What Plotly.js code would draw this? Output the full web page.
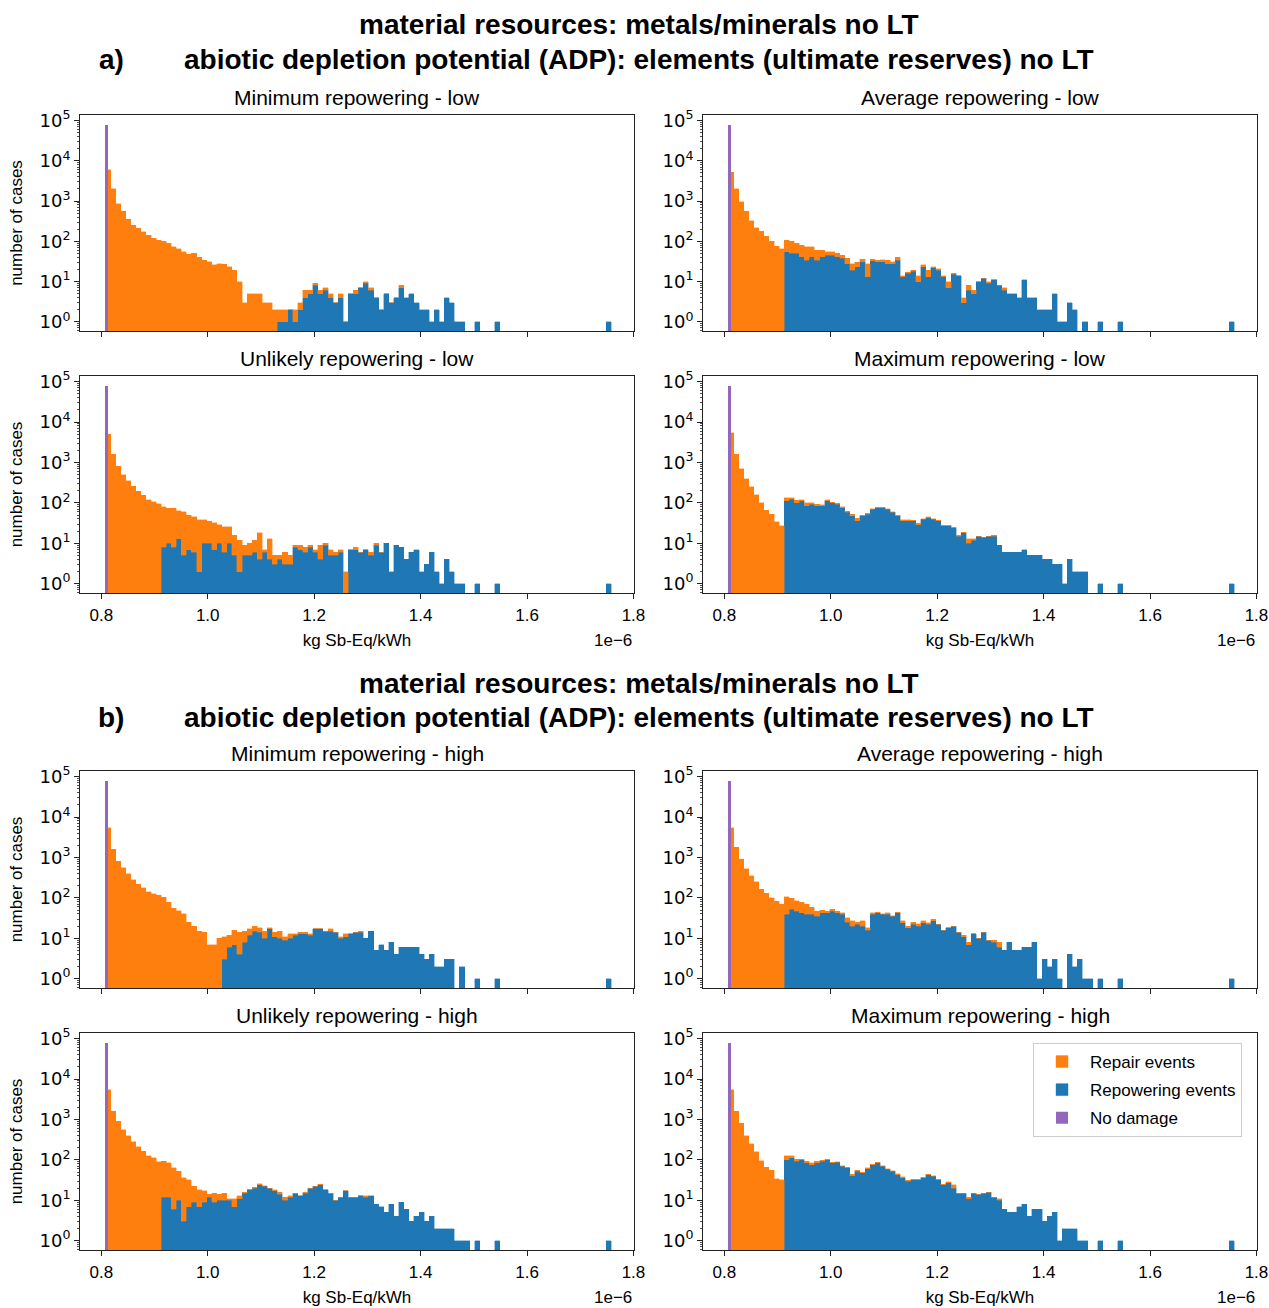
<!DOCTYPE html>
<html>
<head>
<meta charset="utf-8">
<script src="https://cdn.plot.ly/plotly-3.0.1.min.js"></script>
<style>
  html, body { margin: 0; padding: 0; background: #ffffff; }
  #chart { width: 1269px; height: 1308px; }
</style>
</head>
<body>
<div id="chart"></div>
<script>
// ---------------- DATA ----------------
// histogram bins: left edge of first bin and bin width (kg Sb-Eq/kWh, x 1e-6)
const binStart = 0.808;
const binWidth = 0.0095;

const groupTitleLine1 = 'material resources: metals/minerals no LT';
const groupTitleLine2 = 'abiotic depletion potential (ADP): elements (ultimate reserves) no LT';
const groupLabels = ['a)', 'b)'];

const panelTitles = [
  'Minimum repowering - low', 'Average repowering - low',
  'Unlikely repowering - low', 'Maximum repowering - low',
  'Minimum repowering - high', 'Average repowering - high',
  'Unlikely repowering - high', 'Maximum repowering - high'
];

const seriesNames = ['Repair events', 'Repowering events', 'No damage'];

const xTickVals = [0.8, 1.0, 1.2, 1.4, 1.6, 1.8];
const xTickText = ['0.8', '1.0', '1.2', '1.4', '1.6', '1.8'];
const yTickVals = [1, 10, 100, 1000, 10000, 100000];
const yTickText = ['10<sup>0</sup>', '10<sup>1</sup>', '10<sup>2</sup>', '10<sup>3</sup>', '10<sup>4</sup>', '10<sup>5</sup>'];
const xAxisTitle = 'kg Sb-Eq/kWh';
const yAxisTitle = 'number of cases';
const xOffsetText = '1e\u22126';

// "No damage" cases: one bar at the minimum value
const noDamageX = 0.8095;
const noDamageWidth = 0.0045;
const noDamage = [78000, 78000, 78000, 78000, 78000, 78000, 78000, 78000];

// counts per bin (index 0 = first bin)
const repair_minLow = [
  6000,2000,850,560,350,250,210,175,140,118,
  107,100,89,74,66,55,48,50,40,34,
  31,26,28,27,23,19,10,3,5,5,
  5,3,3,2,1,1,0,1,1,2,
  1,1,1,1,1,0,1,0,0,1,
  0,1,1,0,0,0,0,0,1];
const repower_minLow = [
  0,0,0,0,0,0,0,0,0,0,
  0,0,0,0,0,0,0,0,0,0,
  0,0,0,0,0,0,0,0,0,0,
  0,0,0,0,1,1,2,1,2,4,
  5,8,5,6,4,3,4,1,5,5,
  7,9,6,4,2,5,3,4,7,4,
  5,3,2,2,1,2,1,4,3,1,
  1,0,0,1,0,0,0,1,0,0,
  0,0,0,0,0,0,0,0,0,0,
  0,0,0,0,0,0,0,0,0,1];

const repair_avgLow = [
  5200,2000,950,560,320,220,178,132,100,76,
  66,52,50,39,39,40,33,26,19,10,
  10,9,7,10,9,7,5,15,3,3,
  4,6,3,6,1,1,1,4,3,6,
  1,2,1,3,1,0,1,2,1,0,
  0,1,0,0,1];
const repower_avgLow = [
  0,0,0,0,0,0,0,0,0,0,
  0,55,50,50,41,34,41,34,41,45,
  45,41,38,28,19,23,31,13,33,31,
  31,28,28,34,13,16,18,10,23,13,
  22,19,13,7,15,14,3,6,5,10,
  12,9,11,8,6,5,5,4,11,4,
  4,2,2,2,5,1,1,3,2,0,
  1,0,0,1,0,0,0,1,0,0,
  0,0,0,0,0,0,0,0,0,0,
  0,0,0,0,0,0,0,0,0,1];

const repair_unlLow = [
  5000,1600,800,500,350,260,195,155,120,107,
  95,72,64,66,50,55,43,40,36,28,
  25,25,19,20,16,11,10,4,5,6,
  14,1,9,2,1,3,2,1,2,2,
  1,1,5,1,2,1,1,2,0,1,
  0,0,1,1,0];
const repower_unlLow = [
  0,0,0,0,0,0,0,0,0,0,
  0,8,10,8,13,5,7,6,2,10,
  10,7,10,6,10,5,2,5,5,6,
  4,6,4,3,4,3,3,8,7,6,
  8,6,4,9,5,5,6,0,7,7,
  6,7,5,9,6,10,2,9,8,4,
  6,7,2,3,6,2,1,4,2,1,
  1,0,0,1,0,0,0,1,0,0,
  0,0,0,0,0,0,0,0,0,0,
  0,0,0,0,0,0,0,0,0,1];

const repair_maxLow = [
  5500,1600,700,400,250,160,100,66,52,34,
  27,23,12,15,8,15,7,8,5,6,
  5,4,4,4,4,6,2,3,3,2,
  2,3,2,2,2,2,1,2,1,2,
  1,1,1,1,1,1,1,3,1,0,
  0,0,1];
const repower_maxLow = [
  0,0,0,0,0,0,0,0,0,0,
  0,112,123,100,112,85,93,85,85,112,
  100,93,76,58,48,36,48,52,69,76,
  76,69,58,48,36,36,36,29,39,43,
  39,36,27,27,24,15,18,10,12,15,
  14,15,15,9,6,6,6,6,7,5,
  5,5,4,4,3,3,1,4,2,2,
  2,0,0,1,0,0,0,1,0,0,
  0,0,0,0,0,0,0,0,0,0,
  0,0,0,0,0,0,0,0,0,1];

const repair_minHigh = [
  5500,1600,800,560,400,280,215,178,140,126,
  115,105,78,56,48,40,25,20,15,14,
  7,7,10,8,6,9,10,7,5,5,
  4,5,1,3,5,2,3,1,1,1,
  1,0,0,0,2,0,1,2,0,0,
  1];
const repower_minHigh = [
  0,0,0,0,0,0,0,0,0,0,
  0,0,0,0,0,0,0,0,0,0,
  0,0,0,3,6,7,4,8,12,15,
  14,10,17,11,10,9,10,12,13,13,
  12,17,17,15,15,14,10,11,13,14,
  14,10,15,5,7,5,8,4,6,6,
  6,6,4,3,4,2,2,3,3,0,
  2,0,0,1,0,0,0,1,0,0,
  0,0,0,0,0,0,0,0,0,0,
  0,0,0,0,0,0,0,0,0,1];

const repair_avgHigh = [
  5500,1800,900,520,350,250,165,130,100,83,
  69,68,45,38,35,31,19,12,7,4,
  5,4,4,7,7,3,7,2,4,1,
  1,4,1,1,3,2,3,3,3,2,
  3,0,0,0,0,0,1,1,0,0,
  0,0,1,2];
const repower_avgHigh = [
  0,0,0,0,0,0,0,0,0,0,
  0,39,52,47,43,39,39,35,43,43,
  47,43,39,25,20,22,20,16,39,43,
  39,39,35,43,24,18,22,20,24,22,
  27,22,16,18,20,14,11,7,13,10,
  14,9,8,6,5,8,5,5,6,6,
  8,1,3,2,3,1,0,4,2,3,
  1,1,0,1,0,0,0,1,0,0,
  0,0,0,0,0,0,0,0,0,0,
  0,0,0,0,0,0,0,0,0,1];

const repair_unlHigh = [
  5500,1600,900,560,400,280,210,165,126,112,
  89,81,73,57,42,33,25,13,11,8,
  2,6,4,5,1,4,2,1,1,1,
  2,1,0,1,2,2,1,0,0,1,
  0,0,1,0,0,0,0,0,0,0,
  0,1];
const repower_unlHigh = [
  0,0,0,0,0,0,0,0,0,0,
  0,12,12,6,10,3,7,9,7,9,
  12,9,10,10,10,7,11,15,18,20,
  24,22,20,17,14,10,12,15,13,15,
  20,22,24,18,15,10,12,17,12,12,
  13,12,13,8,7,5,8,4,9,6,
  3,4,5,3,4,2,2,2,2,1,
  1,1,0,1,0,0,0,1,0,0,
  0,0,0,0,0,0,0,0,0,0,
  0,0,0,0,0,0,0,0,0,1];

const repair_maxHigh = [
  5500,1600,800,400,250,160,95,66,56,34,
  32,28,16,12,5,8,9,8,4,4,
  3,3,3,3,4,3,2,3,2,2,
  2,2,2,2,2,1,1,1,1,1,
  1,1,1,2,4,0,0,1,0,0,
  0,0,0,1];
const repower_maxHigh = [
  0,0,0,0,0,0,0,0,0,0,
  0,100,112,93,100,85,76,85,93,100,
  85,88,69,63,40,52,48,60,76,85,
  69,58,52,43,36,30,32,32,36,43,
  39,32,24,27,20,15,15,11,15,14,
  15,16,12,10,6,5,5,7,8,4,
  6,6,3,4,5,1,2,2,2,1,
  1,0,0,1,0,0,0,1,0,0,
  0,0,0,0,0,0,0,0,0,0,
  0,0,0,0,0,0,0,0,0,1];

const repairSeries = [repair_minLow, repair_avgLow, repair_unlLow, repair_maxLow,
                      repair_minHigh, repair_avgHigh, repair_unlHigh, repair_maxHigh];
const repowerSeries = [repower_minLow, repower_avgLow, repower_unlLow, repower_maxLow,
                       repower_minHigh, repower_avgHigh, repower_unlHigh, repower_maxHigh];

// ---------------- STYLE / LAYOUT ----------------
const W = 1269, H = 1308;
const FONT = 'Liberation Sans, Arial, Helvetica, sans-serif';
const MATHFONT = 'DejaVu Sans, Liberation Sans, sans-serif';
const colors = { repair: '#ff7f0e', repower: '#1f77b4', none: '#9467bd' };
const colPx = [[80, 634], [703, 1257]];
const rowPx = [[115, 331], [376, 593], [771, 988], [1033, 1250]];
const xRange = [0.760, 1.801];
const yRange = [-0.23, 5.14];

const px2x = p => p / W;
const px2y = p => 1 - p / H;

function binCenters(n) {
  const out = [];
  for (let i = 0; i < n; i++) out.push(binStart + binWidth * (i + 0.5));
  return out;
}

const minorVals = [];
for (let e = -1; e <= 5; e++) {
  for (let m = 2; m <= 9; m++) minorVals.push(m * Math.pow(10, e));
}

const traces = [];
const layout = {
  width: W, height: H,
  margin: { l: 0, r: 0, t: 0, b: 0 },
  paper_bgcolor: '#ffffff',
  plot_bgcolor: '#ffffff',
  barmode: 'stack',
  bargap: 0,
  showlegend: true,
  hovermode: false,
  font: { family: FONT, size: 17, color: '#000000' },
  legend: {
    x: px2x(1033), y: px2y(1043), xanchor: 'left', yanchor: 'top',
    bgcolor: 'rgba(255,255,255,0.85)', bordercolor: '#cccccc', borderwidth: 1,
    font: { family: FONT, size: 17, color: '#000000' },
    traceorder: 'grouped', tracegroupgap: 3, itemwidth: 46
  },
  annotations: [],
  shapes: []
};

for (let k = 0; k < 8; k++) {
  const row = Math.floor(k / 2), col = k % 2;
  const n = k + 1;
  const xa = 'x' + (k ? n : ''), ya = 'y' + (k ? n : '');
  const xName = 'xaxis' + (k ? n : ''), yName = 'yaxis' + (k ? n : '');
  const showLeg = (k === 7);
  const rep = repowerSeries[k], rp = repairSeries[k];

  traces.push({
    type: 'bar', name: seriesNames[1], legendgroup: 'repower', legendrank: 2, showlegend: showLeg,
    x: binCenters(rep.length), y: rep, width: binWidth,
    xaxis: xa, yaxis: ya,
    marker: { color: colors.repower, line: { width: 0.4, color: colors.repower } }
  });
  traces.push({
    type: 'bar', name: seriesNames[0], legendgroup: 'repair', legendrank: 1, showlegend: showLeg,
    x: binCenters(rp.length), y: rp, width: binWidth,
    xaxis: xa, yaxis: ya,
    marker: { color: colors.repair, line: { width: 0.4, color: colors.repair } }
  });
  traces.push({
    type: 'bar', name: seriesNames[2], legendgroup: 'none', legendrank: 3, showlegend: showLeg,
    x: [noDamageX], y: [noDamage[k]], width: noDamageWidth,
    xaxis: xa, yaxis: ya,
    marker: { color: colors.none, line: { width: 0 } }
  });

  const bottomRow = (row % 2 === 1);
  layout[xName] = {
    domain: [px2x(colPx[col][0]), px2x(colPx[col][1])],
    anchor: ya, range: xRange, fixedrange: true,
    tickmode: 'array', tickvals: xTickVals, ticktext: xTickText,
    showticklabels: bottomRow,
    ticks: 'outside', ticklen: 5, tickwidth: 1, tickcolor: '#222',
    showline: true, mirror: true, linecolor: '#222', linewidth: 1,
    showgrid: false, zeroline: false,
    tickfont: { family: FONT, size: 17, color: '#000' },
    ticklabelstandoff: 2
  };
  if (bottomRow) {
    layout[xName].title = { text: xAxisTitle, font: { family: FONT, size: 17, color: '#000' }, standoff: 9 };
  }
  layout[yName] = {
    domain: [px2y(rowPx[row][1]), px2y(rowPx[row][0])],
    anchor: xa, type: 'log', range: yRange, fixedrange: true,
    tickmode: 'array', tickvals: yTickVals, ticktext: yTickText,
    ticks: 'outside', ticklen: 5, tickwidth: 1, tickcolor: '#222',
    minor: { tickmode: 'array', tickvals: minorVals, ticks: 'outside', ticklen: 2.5, tickwidth: 0.8, tickcolor: '#222', showgrid: false },
    showline: true, mirror: true, linecolor: '#222', linewidth: 1,
    showgrid: false, zeroline: false,
    tickfont: { family: MATHFONT, size: 18, color: '#000' }
  };
  if (col === 0) {
    layout[yName].title = { text: yAxisTitle, font: { family: FONT, size: 17, color: '#000' }, standoff: 12 };
  }

  // subplot title
  layout.annotations.push({
    text: panelTitles[k], xref: 'paper', yref: 'paper',
    x: px2x((colPx[col][0] + colPx[col][1]) / 2), y: px2y(rowPx[row][0]),
    xanchor: 'center', yanchor: 'bottom', yshift: 4, showarrow: false,
    font: { family: FONT, size: 21, color: '#000' }
  });
  // offset text for x axis
  if (bottomRow) {
    layout.annotations.push({
      text: xOffsetText, xref: 'paper', yref: 'paper',
      x: px2x(colPx[col][1]), y: px2y(rowPx[row][1] + 47),
      xanchor: 'right', yanchor: 'middle', showarrow: false,
      font: { family: FONT, size: 17, color: '#000' }
    });
  }
}

// group titles
const groupLineY = [[25, 60], [683, 717]];
for (let g = 0; g < 2; g++) {
  layout.annotations.push({
    text: '<b>' + groupTitleLine1 + '</b>', xref: 'paper', yref: 'paper',
    x: px2x(638.5), y: px2y(groupLineY[g][0]), xanchor: 'center', yanchor: 'middle',
    showarrow: false, font: { family: FONT, size: 28, color: '#000' }
  });
  layout.annotations.push({
    text: '<b>' + groupTitleLine2 + '</b>', xref: 'paper', yref: 'paper',
    x: px2x(638.5), y: px2y(groupLineY[g][1]), xanchor: 'center', yanchor: 'middle',
    showarrow: false, font: { family: FONT, size: 28, color: '#000' }
  });
  layout.annotations.push({
    text: '<b>' + groupLabels[g] + '</b>', xref: 'paper', yref: 'paper',
    x: px2x(111), y: px2y(groupLineY[g][1]), xanchor: 'center', yanchor: 'middle',
    showarrow: false, font: { family: FONT, size: 28, color: '#000' }
  });
}

Plotly.newPlot('chart', traces, layout, { staticPlot: true, displayModeBar: false });
</script>
</body>
</html>
